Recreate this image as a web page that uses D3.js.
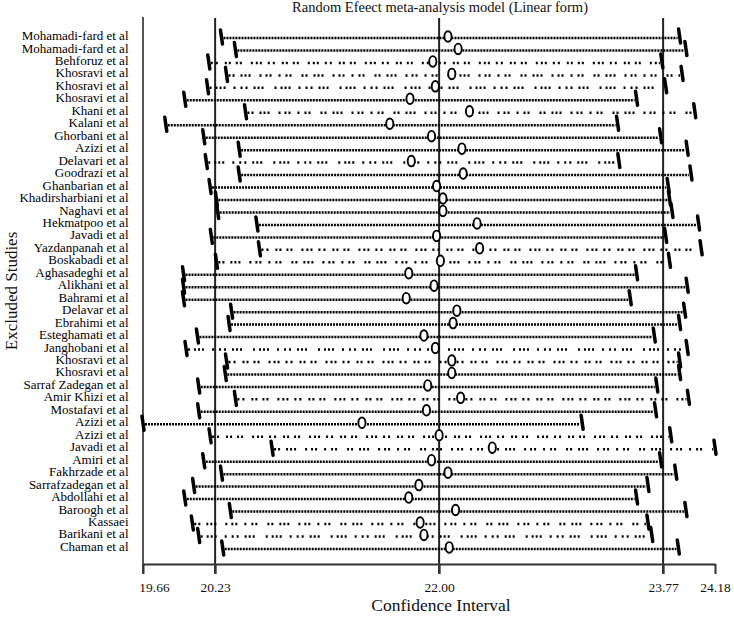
<!DOCTYPE html>
<html>
<head>
<meta charset="utf-8">
<script src="https://cdn.jsdelivr.net/npm/d3@7"></script>
<style>
  html, body { margin: 0; padding: 0; background: #fff; }
  svg { display: block; }
</style>
</head>
<body>
<svg id="chart" width="734" height="617"></svg>
<script>
// ---- data ----
const studies = [
  "Mohamadi-fard et al","Mohamadi-fard et al","Behforuz et al","Khosravi et al","Khosravi et al",
  "Khosravi et al","Khani et al","Kalani et al","Ghorbani et al","Azizi et al",
  "Delavari et al","Goodrazi et al","Ghanbarian et al","Khadirsharbiani et al","Naghavi et al",
  "Hekmatpoo et al","Javadi et al","Yazdanpanah et al","Boskabadi et al","Aghasadeghi et al",
  "Alikhani et al","Bahrami et al","Delavar et al","Ebrahimi et al","Esteghamati et al",
  "Janghobani et al","Khosravi et al","Khosravi et al","Sarraf Zadegan et al","Amir Khizi et al",
  "Mostafavi et al","Azizi et al","Azizi et al","Javadi et al","Amiri et al",
  "Fakhrzade et al","Sarrafzadegan et al","Abdollahi et al","Baroogh et al","Kassaei",
  "Barikani et al","Chaman et al"
];
const lower = [
  20.28,20.39,20.18,20.32,20.17,
  19.99,20.47,19.84,20.14,20.42,
  20.16,20.42,20.19,20.24,20.25,
  20.56,20.20,20.58,20.24,19.98,
  19.98,19.98,20.36,20.34,20.09,
  20.00,20.32,20.31,20.10,20.39,
  20.10,19.66,20.19,20.68,20.14,
  20.28,20.06,19.99,20.35,20.05,
  20.10,20.29
];
const estimate = [
  22.07,22.15,21.95,22.10,21.97,
  21.77,22.24,21.61,21.94,22.18,
  21.78,22.19,21.98,22.03,22.03,
  22.30,21.98,22.32,22.01,21.76,
  21.96,21.74,22.14,22.11,21.88,
  21.97,22.10,22.10,21.91,22.17,
  21.90,21.39,22.00,22.42,21.94,
  22.07,21.84,21.76,22.13,21.85,
  21.88,22.08
];
const upper = [
  23.90,23.95,23.76,23.92,23.79,
  23.56,24.02,23.41,23.75,23.96,
  23.42,23.99,23.81,23.82,23.84,
  24.05,23.79,24.07,23.82,23.56,
  23.96,23.51,23.94,23.90,23.70,
  23.96,23.90,23.90,23.72,23.97,
  23.71,23.13,23.83,24.18,23.75,
  23.87,23.65,23.56,23.95,23.65,
  23.68,23.89
];
// 1 = sparse (broken) dotted line, 0 = dense dotted line
const sparse = [
  0,0,1,1,1,
  0,1,0,0,0,
  1,0,0,0,0,
  0,0,1,1,0,
  0,0,0,0,0,
  1,1,0,0,1,
  0,0,1,1,0,
  0,0,0,0,1,
  1,0
];
const tickValues = [19.66, 20.23, 22.00, 23.77, 24.18];
const refLines = [20.23, 22.00, 23.77];

// ---- drawing ----
const svg = d3.select("#chart");
const x = d3.scaleLinear().domain([19.66, 24.18]).range([143, 715]);
const y = d3.scalePoint().domain(d3.range(studies.length)).range([38, 548.9]);
const rows = studies.map((s, i) => ({s, i, lo: lower[i], est: estimate[i], hi: upper[i], sp: sparse[i]}));

const serif = "'Liberation Serif','Times New Roman',serif";
const axisY = 564;

// title
svg.append("text").attr("x", 440).attr("y", 12).attr("text-anchor", "middle")
  .attr("font-family", serif).attr("font-size", 14.5).attr("fill", "#111")
  .text("Random Efeect meta-analysis model (Linear form)");

// left frame line
svg.append("line").attr("x1", x(19.66)).attr("x2", x(19.66)).attr("y1", 17).attr("y2", 574)
  .attr("stroke", "#555").attr("stroke-width", 2);

// reference vertical lines
svg.selectAll("line.ref").data(refLines).join("line").attr("class", "ref")
  .attr("x1", d => x(d)).attr("x2", d => x(d)).attr("y1", 18).attr("y2", 574)
  .attr("stroke", "#222").attr("stroke-width", 2);

// bottom axis
const axis = d3.axisBottom(x).tickValues(tickValues).tickSize(10).tickSizeOuter(0)
  .tickFormat(d3.format(".2f"));
const gA = svg.append("g").attr("transform", `translate(0,${axisY})`).call(axis);
gA.select(".domain").attr("stroke", "#333").attr("stroke-width", 2);
gA.selectAll(".tick line").attr("stroke", "#333").attr("stroke-width", 2);
gA.selectAll(".tick text").attr("font-family", serif).attr("font-size", 13.5)
  .attr("fill", "#111").attr("dy", "1.1em")
  .attr("dx", d => d === 19.66 ? 11 : 0);

svg.append("text").attr("x", 441).attr("y", 611).attr("text-anchor", "middle")
  .attr("font-family", serif).attr("font-size", 17.5).attr("fill", "#111")
  .text("Confidence Interval");

svg.append("text").attr("transform", "translate(17,291) rotate(-90)").attr("text-anchor", "middle")
  .attr("font-family", serif).attr("font-size", 17).attr("fill", "#111")
  .text("Excluded Studies");

// row labels
svg.selectAll("text.lab").data(rows).join("text").attr("class", "lab")
  .attr("x", 128.5).attr("y", d => y(d.i) - 2.5).attr("dy", "0.35em")
  .attr("text-anchor", "end").attr("font-family", serif).attr("font-size", 13)
  .attr("fill", "#000").text(d => d.s);

// dotted CI lines
const sparsePatterns = [
  "2 2 2 6 2 2 2 2 2 9 2 4 2 2 2 7 2 5 2 2 2 10",
  "2 4 2 2 2 2 2 8 2 5 2 3 2 6 2 2 2 2 2 11",
  "2 3 2 7 2 2 2 5 2 2 2 9 2 3 2 2 2 6"
];
svg.selectAll("line.ci").data(rows).join("line").attr("class", "ci")
  .attr("x1", d => x(d.lo) + 2).attr("x2", d => x(d.hi) - 2)
  .attr("y1", d => y(d.i)).attr("y2", d => y(d.i))
  .attr("stroke", "#000").attr("stroke-width", 2.5)
  .attr("stroke-dasharray", d => d.sp ? sparsePatterns[d.i % 3] : "2 1");

// end caps
const capPath = (cx, cy) => `M${cx - 1},${cy - 8}L${cx + 1},${cy + 6}`;
svg.selectAll("path.capL").data(rows).join("path").attr("class", "capL")
  .attr("d", d => capPath(x(d.lo), y(d.i)))
  .attr("stroke", "#000").attr("stroke-width", 3.5).attr("stroke-linecap", "round").attr("fill", "none");
svg.selectAll("path.capR").data(rows).join("path").attr("class", "capR")
  .attr("d", d => capPath(x(d.hi), y(d.i) - 1))
  .attr("stroke", "#000").attr("stroke-width", 3.5).attr("stroke-linecap", "round").attr("fill", "none");

// estimate ellipses
svg.selectAll("ellipse.est").data(rows).join("ellipse").attr("class", "est")
  .attr("cx", d => x(d.est)).attr("cy", d => y(d.i) - 1.5)
  .attr("rx", 3.6).attr("ry", 5.3)
  .attr("fill", "#fff").attr("stroke", "#000").attr("stroke-width", 1.9);
</script>
</body>
</html>
